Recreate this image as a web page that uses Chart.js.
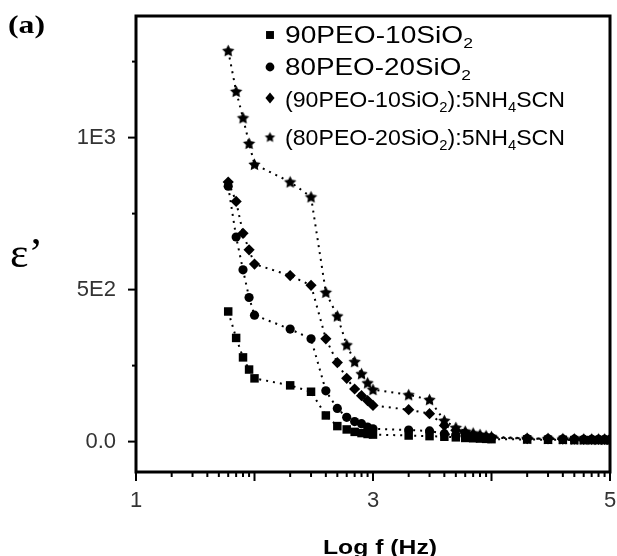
<!DOCTYPE html>
<html>
<head>
<meta charset="utf-8">
<script src="https://cdn.jsdelivr.net/npm/chart.js@4.4.1/dist/chart.umd.min.js"></script>
<style>
html, body { margin: 0; padding: 0; background: #fff; }
#wrap { width: 617px; height: 556px; }
</style>
</head>
<body>
<div id="wrap"><canvas id="epsChart" width="617" height="556"></canvas></div>
<script>
// frequencies (Hz), plotted on a log axis labelled by exponent
const freqs = [60, 70, 80, 90, 100, 200, 300, 400, 500, 600, 700, 800, 900, 1000,
    2000, 3000, 4000, 5000, 6000, 7000, 8000, 9000, 10000,
    20000, 30000, 40000, 50000, 60000, 70000, 80000, 90000, 100000];

const eps9010 = [428, 341, 277, 237, 208, 185, 164, 86, 51, 40, 32, 28, 25, 23,
    20, 18, 16, 14, 12, 11, 10, 9, 8, 7, 6, 6, 5, 5, 5, 5, 5, 5];
const eps8020 = [840, 673, 565, 474, 416, 370, 338, 167, 109, 80, 66, 59, 48, 42,
    38, 35, 26, 21, 18, 16, 15, 14, 13, 10, 9, 8, 8, 7, 7, 7, 7, 7];
const eps9010salt = [854, 790, 685, 631, 584, 546, 514, 338, 260, 208, 173, 151, 135, 119,
    105, 92, 53, 37, 28, 22, 18, 15, 13, 10, 9, 8, 8, 7, 7, 7, 7, 7];
const eps8020salt = [1286, 1152, 1065, 981, 912, 854, 805, 491, 413, 318, 263, 223, 193, 171,
    154, 138, 69, 46, 34, 28, 23, 19, 16, 11, 10, 9, 8, 8, 8, 8, 8, 8];

const seriesLabels = ['90PEO-10SiO₂', '80PEO-20SiO₂', '(90PEO-10SiO₂):5NH₄SCN', '(80PEO-20SiO₂):5NH₄SCN'];
const xTickValues = [10, 20, 30, 40, 50, 60, 70, 80, 90,
    100, 200, 300, 400, 500, 600, 700, 800, 900,
    1000, 2000, 3000, 4000, 5000, 6000, 7000, 8000, 9000,
    10000, 20000, 30000, 40000, 50000, 60000, 70000, 80000, 90000, 100000];
const xTickLabels = {10: '1', 1000: '3', 100000: '5'};
const yTickValues = [0, 250, 500, 750, 1000, 1250];
const yTickLabels = {0: '0.0', 500: '5E2', 1000: '1E3'};

const SANS = '"Liberation Sans", Arial, Helvetica, sans-serif';
const SERIF = '"Liberation Serif", "Times New Roman", serif';

function makeStar(r) {
    const s = Math.ceil(r * 2 + 2);
    const c = document.createElement('canvas');
    c.width = s;
    c.height = s;
    const g = c.getContext('2d');
    g.fillStyle = '#000';
    g.beginPath();
    for (let i = 0; i < 10; i++) {
        const a = -Math.PI / 2 + i * Math.PI / 5;
        const rr = i % 2 ? r * 0.5 : r;
        g.lineTo(s / 2 + rr * Math.cos(a), s / 2 + rr * Math.sin(a) + 0.5);
    }
    g.closePath();
    g.fill();
    return c;
}

const starImg = makeStar(6.5);
const starSmall = makeStar(5.5);
const pointStyles = ['rect', 'circle', 'rectRot', starImg];
const pointSizes = [6, 4.6, 5.6, 5];
const allSeries = [eps9010, eps8020, eps9010salt, eps8020salt];

// split "SiO₂" style labels into normal / subscript runs
const SUBS = '₀₁₂₃₄₅₆₇₈₉';
function splitRuns(text) {
    const runs = [];
    for (const ch of text) {
        const k = SUBS.indexOf(ch);
        const sub = k >= 0;
        const c = sub ? String(k) : ch;
        if (runs.length && runs[runs.length - 1].sub === sub) runs[runs.length - 1].t += c;
        else runs.push({t: c, sub: sub});
    }
    return runs;
}

function drawText(ctx, text, x, base, size, family, weight, width) {
    const runs = splitRuns(text);
    const subSize = Math.round(size * 0.62);
    let total = 0;
    runs.forEach(r => {
        ctx.font = weight + ' ' + (r.sub ? subSize : size) + 'px ' + family;
        r.w = ctx.measureText(r.t).width;
        total += r.w;
    });
    const sx = width ? width / total : 1;
    ctx.save();
    ctx.translate(x, base);
    ctx.scale(sx, 1);
    ctx.fillStyle = '#000';
    ctx.textBaseline = 'alphabetic';
    ctx.textAlign = 'left';
    let cx = 0;
    runs.forEach(r => {
        ctx.font = weight + ' ' + (r.sub ? subSize : size) + 'px ' + family;
        ctx.fillText(r.t, cx, r.sub ? size * 0.22 : 0);
        cx += r.w;
    });
    ctx.restore();
}

function drawMarker(ctx, style, x, y, r) {
    ctx.save();
    ctx.fillStyle = '#000';
    ctx.beginPath();
    if (style === 'rect') {
        const h = r * Math.SQRT1_2;
        ctx.rect(x - h, y - h, 2 * h, 2 * h);
        ctx.fill();
    } else if (style === 'circle') {
        ctx.arc(x, y, r, 0, Math.PI * 2);
        ctx.fill();
    } else if (style === 'rectRot') {
        ctx.moveTo(x, y - r);
        ctx.lineTo(x + r * 0.85, y);
        ctx.lineTo(x, y + r);
        ctx.lineTo(x - r * 0.85, y);
        ctx.closePath();
        ctx.fill();
    } else {
        ctx.drawImage(style, x - style.width / 2, y - style.height / 2);
    }
    ctx.restore();
}

const legendRows = [
    {y: 35, base: 43, size: 24, width: 188},
    {y: 67, base: 75, size: 24, width: 186},
    {y: 98, base: 107, size: 22, width: 280},
    {y: 137, base: 145, size: 22, width: 280}
];

const framePlugin = {
    id: 'frame',
    afterDraw(chart) {
        const ctx = chart.ctx;
        const a = chart.chartArea;
        const xs = chart.scales.x;
        const ys = chart.scales.y;
        ctx.save();
        ctx.strokeStyle = '#000';
        ctx.lineWidth = 2;
        xs.ticks.forEach(t => {
            const px = xs.getPixelForValue(t.value);
            const big = Math.abs(Math.log10(t.value) - Math.round(Math.log10(t.value))) < 1e-6;
            ctx.beginPath();
            ctx.moveTo(px, a.bottom);
            ctx.lineTo(px, a.bottom + (big ? 9 : 5));
            ctx.stroke();
        });
        ys.ticks.forEach(t => {
            const py = ys.getPixelForValue(t.value);
            const big = t.value % 500 === 0;
            ctx.beginPath();
            ctx.moveTo(a.left, py);
            ctx.lineTo(a.left - (big ? 8 : 4), py);
            ctx.stroke();
        });
        ctx.lineWidth = 3;
        ctx.strokeRect(a.left, a.top, a.right - a.left, a.bottom - a.top);
        ctx.restore();

        // legend inside the plot
        chart.data.datasets.forEach((ds, i) => {
            const row = legendRows[i];
            const st = ds.pointStyle === starImg ? starSmall : ds.pointStyle;
            drawMarker(ctx, st, 270, row.y, i === 0 ? 5.6 : (i === 1 ? 4.4 : 5.4));
            drawText(ctx, ds.label, 285, row.base, row.size, SANS, 'normal', row.width);
        });

        drawText(ctx, '(a)', 8, 33, 25, SERIF, 'bold', 37);
        drawText(ctx, 'ε’', 10, 267, 42, SERIF, 'normal', 33);
        drawText(ctx, 'Log f (Hz)', 323, 554, 20, SANS, 'bold', 114);
    }
};

const ctx = document.getElementById('epsChart').getContext('2d');
new Chart(ctx, {
    type: 'line',
    data: {
        datasets: allSeries.map((vals, i) => ({
            label: seriesLabels[i],
            data: freqs.map((f, k) => ({x: f, y: vals[k]})),
            borderColor: '#000',
            backgroundColor: '#000',
            borderWidth: 2,
            borderDash: [2, 5],
            pointStyle: pointStyles[i],
            pointRadius: pointSizes[i],
            pointBorderWidth: 0,
            pointBackgroundColor: '#000',
            fill: false,
            tension: 0
        }))
    },
    options: {
        responsive: false,
        animation: false,
        layout: {padding: {left: 0, right: 7, top: 16, bottom: 0}},
        plugins: {legend: {display: false}, tooltip: {enabled: false}},
        scales: {
            x: {
                type: 'logarithmic',
                min: 10,
                max: 100000,
                afterBuildTicks: s => { s.ticks = xTickValues.map(v => ({value: v})); },
                afterFit: s => {
                    s.height = 84;
                    s.paddingLeft = 0;
                    s.paddingRight = 0;
                },
                grid: {drawOnChartArea: false, tickLength: 8, tickColor: 'rgba(0,0,0,0)'},
                border: {display: false},
                ticks: {
                    autoSkip: false,
                    maxRotation: 0,
                    padding: 8,
                    color: '#333',
                    font: {family: SANS, size: 22},
                    callback: v => xTickLabels[v] || ''
                }
            },
            y: {
                min: -100,
                max: 1400,
                afterBuildTicks: s => { s.ticks = yTickValues.map(v => ({value: v})); },
                afterFit: s => {
                    s.width = 136;
                    s.paddingTop = 0;
                    s.paddingBottom = 0;
                },
                grid: {drawOnChartArea: false, tickLength: 8, tickColor: 'rgba(0,0,0,0)'},
                border: {display: false},
                ticks: {
                    padding: 12,
                    color: '#333',
                    font: {family: SANS, size: 22},
                    callback: v => (v in yTickLabels ? yTickLabels[v] : '')
                }
            }
        }
    },
    plugins: [framePlugin]
});
</script>
</body>
</html>
